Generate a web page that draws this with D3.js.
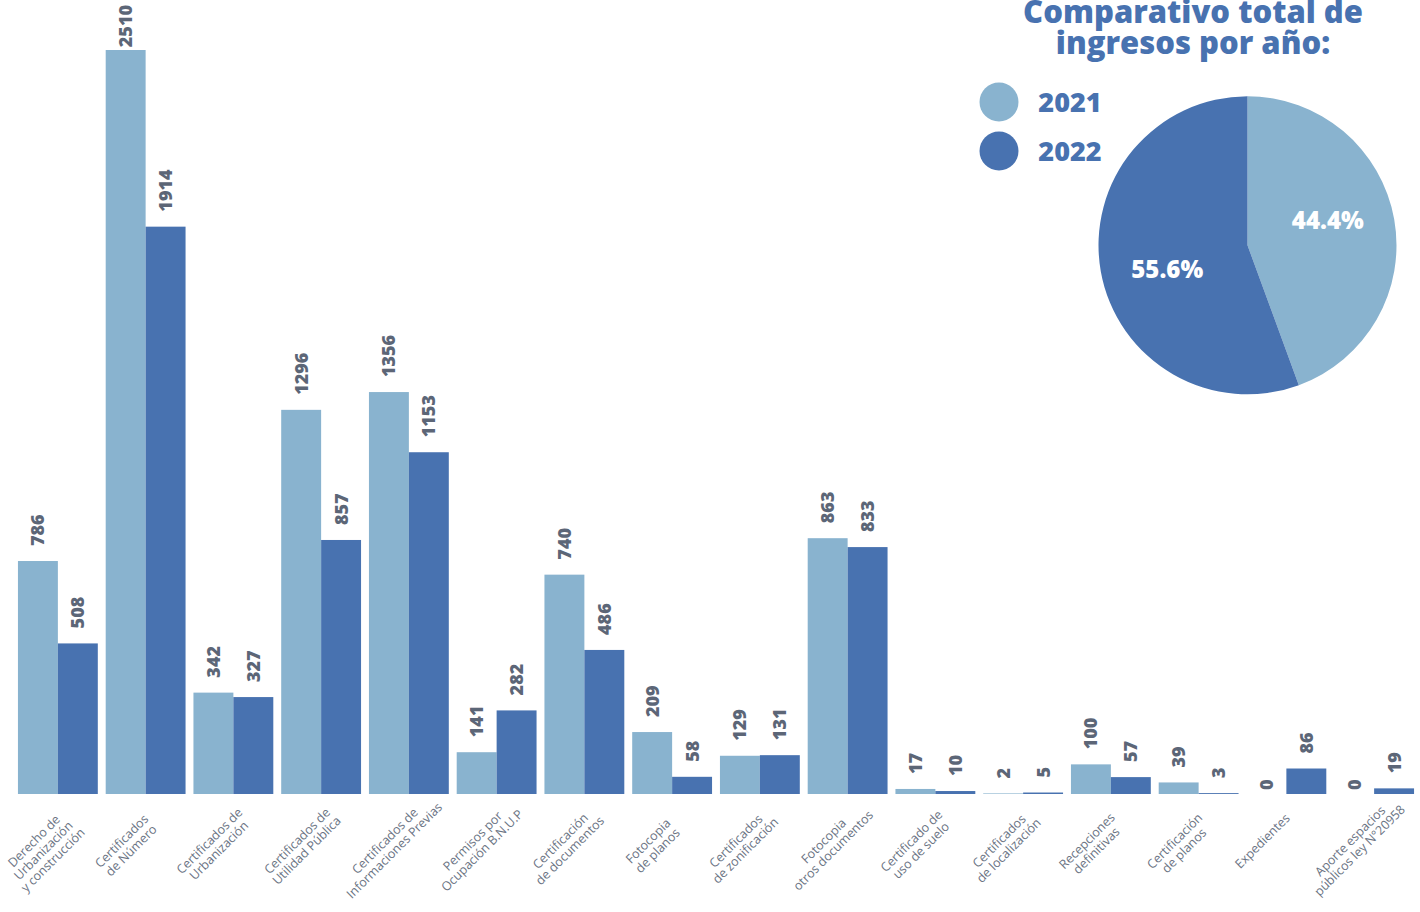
<!DOCTYPE html>
<html>
<head>
<meta charset="utf-8">
<script src="https://cdn.jsdelivr.net/npm/d3@7/dist/d3.min.js"></script>
<style>
  html, body { margin: 0; padding: 0; background: #ffffff; }
  svg { display: block; }
</style>
</head>
<body>
<svg id="chart" width="1420" height="912"></svg>
<script>
// ---------- data ----------
const categories = [
  "Derecho de\nUrbanización\ny construcción",
  "Certificados\nde Número",
  "Certificados de\nUrbanización",
  "Certificados de\nUtilidad Pública",
  "Certificados de\nInformaciones Previas",
  "Permisos por\nOcupación B.N.U.P",
  "Certificación\nde documentos",
  "Fotocopia\nde planos",
  "Certificados\nde zonificación",
  "Fotocopia\notros documentos",
  "Certificado de\nuso de suelo",
  "Certificados\nde localización",
  "Recepciones\ndefinitivas",
  "Certificación\nde planos",
  "Expedientes",
  "Aporte espacios\npúblicos ley N°20958"
];
const years = ["2021", "2022"];
const values2021 = [786, 2510, 342, 1296, 1356, 141, 740, 209, 129, 863, 17, 2, 100, 39, 0, 0];
const values2022 = [508, 1914, 327, 857, 1153, 282, 486, 58, 131, 833, 10, 5, 57, 3, 86, 19];
const pieShares = [44.4, 55.6];
const titleLines = ["Comparativo total de", "ingresos por año:"];

// ---------- styles ----------
const colors = ["#89b3cf", "#4872b0"];
const labelGrey = "#5c6677";
const catGrey = "#6a7383";
const boldFont = "'Open Sans', 'Noto Sans', sans-serif";

const svg = d3.select("#chart");
const baseY = 794;

const x0 = d3.scaleBand()
  .domain(d3.range(categories.length))
  .range([14, 1418])
  .paddingInner(0.09)
  .paddingOuter(0.045);
const x1 = d3.scaleBand()
  .domain(years)
  .range([0, x0.bandwidth()])
  .padding(0);
const y = d3.scaleLinear()
  .domain([0, d3.max(values2021.concat(values2022))])
  .range([baseY, 50]);

const rows = categories.map((c, i) => ({
  i, cat: c,
  vals: [{ year: "2021", v: values2021[i] }, { year: "2022", v: values2022[i] }]
}));

const groups = svg.append("g").selectAll("g.grp")
  .data(rows).join("g")
  .attr("class", "grp")
  .attr("transform", d => `translate(${x0(d.i)},0)`);

groups.selectAll("rect")
  .data(d => d.vals).join("rect")
  .attr("x", d => x1(d.year))
  .attr("y", d => y(d.v))
  .attr("width", x1.bandwidth())
  .attr("height", d => baseY - y(d.v))
  .attr("fill", d => colors[years.indexOf(d.year)]);

// value labels (rotated)
groups.selectAll("text.val")
  .data(d => d.vals).join("text")
  .attr("class", "val")
  .attr("text-anchor", "start")
  .attr("dy", "0.36em")
  .style("font-family", boldFont)
  .style("font-weight", 800)
  .style("font-size", "18px")
  .attr("fill", labelGrey)
  .text(d => d.v)
  .each(function (d) {
    const len = this.getComputedTextLength();
    const gap = d.v === 0 ? 4 : 15;
    let bottom = y(d.v) - gap;
    if (bottom - len < 5) bottom = 5 + len;
    const cx = x1(d.year) + x1.bandwidth() / 2;
    d3.select(this).attr("transform", `translate(${cx},${bottom}) rotate(-90)`);
  });

// category labels (rotated -45)
const catLabels = svg.append("g").selectAll("text.cat")
  .data(rows).join("text")
  .attr("class", "cat")
  .attr("transform", d => `translate(${x0(d.i) + x0.bandwidth() / 2 - 24},${baseY + 47}) rotate(-45)`)
  .attr("text-anchor", "middle")
  .style("font-family", "'Open Sans', 'Noto Sans', sans-serif")
  .style("font-size", "12.5px")
  .attr("fill", catGrey);
catLabels.selectAll("tspan")
  .data(d => d.cat.split("\n")).join("tspan")
  .attr("x", 0)
  .attr("y", (t, k) => k * 13.4)
  .attr("dy", "0.35em")
  .text(t => t);

// ---------- title ----------
const title = svg.append("text")
  .attr("text-anchor", "middle")
  .style("font-family", boldFont)
  .style("font-weight", 800)
  .style("font-size", "31px")
  .attr("fill", "#4872b0");
title.selectAll("tspan").data(titleLines).join("tspan")
  .attr("x", 1193)
  .attr("y", (t, k) => 23 + k * 31)
  .text(t => t);

// ---------- legend ----------
const legend = svg.append("g").selectAll("g")
  .data(years).join("g")
  .attr("transform", (d, k) => `translate(999,${102 + k * 49})`);
legend.append("circle").attr("r", 19.5).attr("fill", (d, k) => colors[k]);
legend.append("text")
  .attr("x", 71)
  .attr("y", 9.5)
  .attr("text-anchor", "middle")
  .style("font-family", boldFont)
  .style("font-weight", 800)
  .style("font-size", "27px")
  .attr("fill", "#4872b0")
  .text(d => d);

// ---------- pie ----------
const R = 149;
const pie = d3.pie().sort(null).value(d => d)(pieShares);
const arc = d3.arc().innerRadius(0).outerRadius(R);
const pg = svg.append("g").attr("transform", "translate(1247.5,245.3)");
pg.selectAll("path").data(pie).join("path")
  .attr("d", arc)
  .attr("fill", (d, k) => colors[k]);
const labelArc = d3.arc().innerRadius(84).outerRadius(84);
const tilt = -7 * Math.PI / 180;
pg.selectAll("text").data(pie).join("text")
  .attr("transform", d => {
    const c = labelArc.centroid({ startAngle: d.startAngle + tilt, endAngle: d.endAngle + tilt });
    return `translate(${c[0]},${c[1]})`;
  })
  .attr("text-anchor", "middle")
  .attr("dy", "0.35em")
  .style("font-family", boldFont)
  .style("font-weight", 800)
  .style("font-size", "24px")
  .attr("fill", "#ffffff")
  .text(d => d.data.toFixed(1) + "%");
</script>
</body>
</html>
